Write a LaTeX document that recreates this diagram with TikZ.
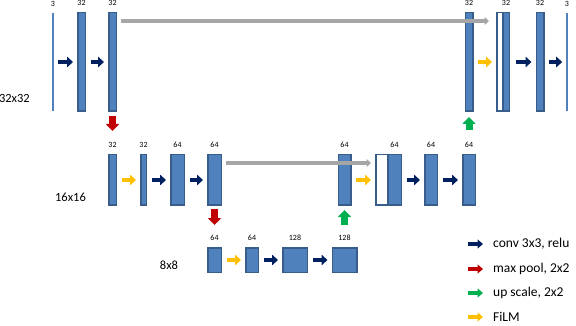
\documentclass[tikz,border=0pt]{standalone}
\usepackage{fontspec}
\setmainfont{Carlito}
\usetikzlibrary{arrows.meta}
\definecolor{barfill}{HTML}{4F81BD}
\definecolor{barline}{HTML}{385D8A}
\definecolor{convcol}{HTML}{002060}
\definecolor{poolcol}{HTML}{C00000}
\definecolor{upcol}{HTML}{00B050}
\definecolor{filmcol}{HTML}{FFC000}
\definecolor{skipcol}{HTML}{A6A6A6}
\begin{document}
\begin{tikzpicture}[x=1pt, y=-1pt, label distance=6.5pt,
    bar/.style={draw=barline, fill=barfill, line width=1.5pt, inner sep=0pt},
    catbar/.style={draw=barline, fill=white, line width=1.5pt, inner sep=0pt},
    thinbar/.style={fill=barfill, inner sep=0pt, minimum width=1.2pt, minimum height=98pt},
    numlbl/.style={font=\fontsize{8}{8}\selectfont, inner sep=0pt},
    reslbl/.style={font=\fontsize{12.5}{14}\selectfont, inner sep=0pt},
    keytext/.style={font=\fontsize{13.5}{15}\selectfont, anchor=west, inner sep=0pt},
    hop/.style={line width=4.5pt, -{Triangle[length=6pt, width=10.5pt]}, shorten <=4.5pt, shorten >=4pt},
    conv/.style={hop, convcol}, film/.style={hop, filmcol},
    vhop/.style={line width=7pt, -{Triangle[length=7pt, width=13pt]}},
    pool/.style={vhop, poolcol}, upscale/.style={vhop, upcol},
    keyarrow/.style={line width=4pt, -{Triangle[length=5.5pt, width=9pt]}},
    skiparrow/.style={skipcol, line width=4pt, -{Triangle[length=4.5pt, width=8pt]}, shorten <=4pt}]
    \useasboundingbox (0,0) rectangle (576,326);
    \node[thinbar, label={[numlbl]above:3}] (in) at (53,62) {};
    \node[bar, minimum width=7.5pt, minimum height=98.5pt, label={[numlbl]above:32}] (t1) at (81.5,62) {};
    \node[bar, minimum width=7.5pt, minimum height=98.5pt, label={[numlbl]above:32}] (t2) at (112.5,62) {};
    \node[bar, minimum width=7.5pt, minimum height=98.5pt, label={[numlbl]above:32}] (t3) at (469,62) {};
    \node[catbar, minimum width=6pt, minimum height=98.5pt] (t4w) at (499.75,62) {};
    \node[bar, minimum width=6.5pt, minimum height=98.5pt, label={[numlbl]above:32}] (t4b) at (506,62) {};
    \node[bar, minimum width=7.5pt, minimum height=98.5pt, label={[numlbl]above:32}] (t5) at (540,62) {};
    \node[thinbar, label={[numlbl]above:3}] (out) at (567,62) {};
    \node[bar, minimum width=7.5pt, minimum height=50.5pt, label={[numlbl]above:32}] (m1) at (112.5,180) {};
    \node[bar, minimum width=5.5pt, minimum height=50.5pt, label={[numlbl]above:32}] (m2) at (143.5,180) {};
    \node[bar, minimum width=13.5pt, minimum height=50.5pt, label={[numlbl]above:64}] (m3) at (177.5,180) {};
    \node[bar, minimum width=13.5pt, minimum height=50.5pt, label={[numlbl]above:64}] (m4) at (214.5,180) {};
    \node[bar, minimum width=12.5pt, minimum height=50.5pt, label={[numlbl]above:64}] (m5) at (344.5,180) {};
    \node[catbar, minimum width=12pt, minimum height=50.5pt] (m6w) at (381.75,180) {};
    \node[bar, minimum width=13.5pt, minimum height=50.5pt, label={[numlbl]above:64}] (m6b) at (394.5,180) {};
    \node[bar, minimum width=12.5pt, minimum height=50.5pt, label={[numlbl]above:64}] (m7) at (431,180) {};
    \node[bar, minimum width=12.5pt, minimum height=50.5pt, label={[numlbl]above:64}] (m8) at (469,180) {};
    \node[bar, minimum width=13.5pt, minimum height=24.5pt, label={[numlbl]above:64}] (b1) at (214.5,260) {};
    \node[bar, minimum width=12.5pt, minimum height=24.5pt, label={[numlbl]above:64}] (b2) at (252,260) {};
    \node[bar, minimum width=24.5pt, minimum height=24.5pt, label={[numlbl]above:128}] (b3) at (295,260) {};
    \node[bar, minimum width=24.5pt, minimum height=24.5pt, label={[numlbl]above:128}] (b4) at (344.5,260) {};
    \node[reslbl, anchor=east] (r32) at (30,98) {32x32};
    \node[reslbl] (r16) at (70.5,197) {16x16};
    \node[reslbl] (r8) at (169,265) {8x8};
    \draw[conv] (in.east) -- (t1.west);
    \draw[conv] (t1.east) -- (t2.west);
    \draw[film] (t3.east) -- (t4w.west);
    \draw[conv, shorten <=6pt] (t4b.east) -- (t5.west);
    \draw[conv] (t5.east) -- (out.west);
    \draw[film] (m1.east) -- (m2.west);
    \draw[conv] (m2.east) -- (m3.west);
    \draw[conv] (m3.east) -- (m4.west);
    \draw[film] (m5.east) -- (m6w.west);
    \draw[conv] (m6b.east) -- (m7.west);
    \draw[conv] (m7.east) -- (m8.west);
    \draw[film] (b1.east) -- (b2.west);
    \draw[conv] (b2.east) -- (b3.west);
    \draw[conv] (b3.east) -- (b4.west);
    \draw[pool, shorten <=4pt, shorten >=23pt] (t2.south) -- (m1.north);
    \draw[pool, shorten <=3pt, shorten >=22pt] (m4.south) -- (b1.north);
    \draw[upscale, shorten <=22pt, shorten >=4pt] (b4.north) -- (m5.south);
    \draw[upscale, shorten <=24pt, shorten >=5pt] (m8.north) -- (t3.south);
    \draw[skiparrow, shorten >=7pt] ([yshift=-9pt]t2.north east) -- ([yshift=-9pt]t4w.north west);
    \draw[skiparrow, shorten >=4pt] ([yshift=-9pt]m4.north east) -- ([yshift=-9pt]m6w.north west);
    \node[keytext] (kconv) at (493,244) {conv 3x3, relu};
    \node[keytext] (kpool) at (493,269) {max pool, 2x2};
    \node[keytext] (kup) at (493,293) {up scale, 2x2};
    \node[keytext] (kfilm) at (493,317) {FiLM};
    \draw[keyarrow, convcol] ([xshift=-25pt]kconv.west) -- ([xshift=-10pt]kconv.west);
    \draw[keyarrow, poolcol] ([xshift=-25pt]kpool.west) -- ([xshift=-10pt]kpool.west);
    \draw[keyarrow, upcol] ([xshift=-25pt]kup.west) -- ([xshift=-10pt]kup.west);
    \draw[keyarrow, filmcol] ([xshift=-25pt]kfilm.west) -- ([xshift=-10pt]kfilm.west);
\end{tikzpicture}
\end{document}
